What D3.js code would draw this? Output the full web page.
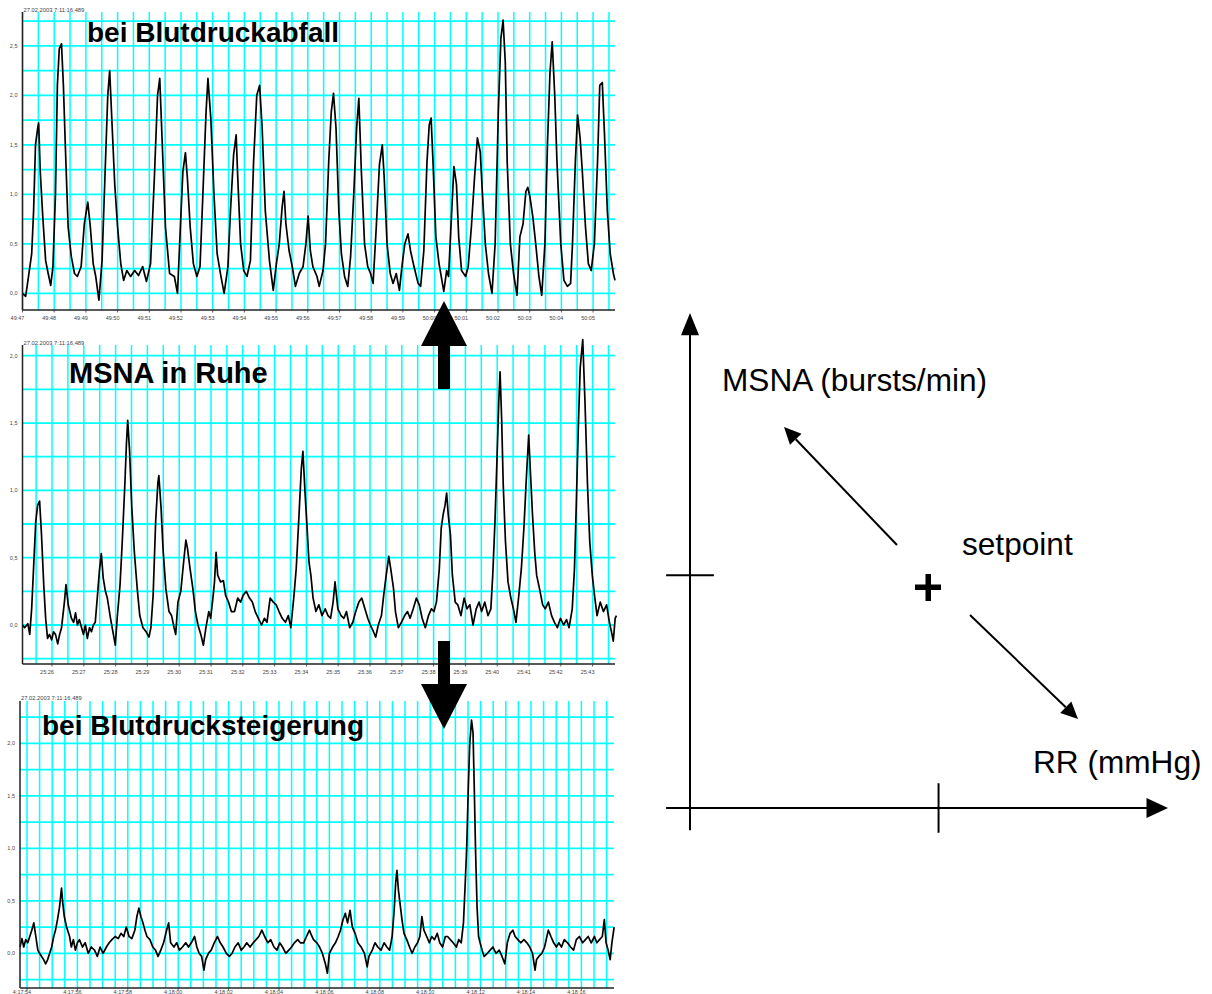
<!DOCTYPE html>
<html>
<head>
<meta charset="utf-8">
<script src="https://cdn.jsdelivr.net/npm/d3@7"></script>
<style>
  body { margin: 0; background: #fff; }
  svg { display: block; }
  text { font-family: Arial, "Liberation Sans", sans-serif; }
</style>
</head>
<body>
<svg width="1212" height="994"></svg>
<script>
// MSNA traces: [seconds after first labelled tick, amplitude]
const fallTrace = [
  [0,0.0],[0.1,-0.03],[0.19,0.17],[0.29,0.4],[0.35,0.83],[0.41,1.5],[0.48,1.67],[0.51,1.72],[0.56,1.23],[0.64,0.77],
  [0.73,0.33],[0.81,0.2],[0.89,0.08],[0.96,0.27],[1.04,1.0],[1.1,2.1],[1.16,2.47],[1.23,2.52],[1.29,2.1],[1.35,1.5],
  [1.44,0.67],[1.54,0.37],[1.64,0.2],[1.73,0.17],[1.85,0.27],[1.95,0.7],[2.06,0.92],[2.14,0.67],[2.23,0.3],[2.31,0.17],
  [2.41,-0.07],[2.51,0.33],[2.6,1.17],[2.69,2.0],[2.75,2.25],[2.83,1.67],[2.91,1.1],[3.0,0.67],[3.1,0.3],[3.19,0.13],
  [3.29,0.23],[3.41,0.17],[3.54,0.23],[3.66,0.18],[3.79,0.27],[3.91,0.12],[4.04,0.3],[4.16,1.17],[4.26,2.0],[4.33,2.17],
  [4.41,1.5],[4.51,0.67],[4.64,0.2],[4.79,0.17],[4.89,0.0],[4.98,0.67],[5.06,1.23],[5.14,1.42],[5.2,1.17],[5.29,0.67],
  [5.39,0.3],[5.5,0.17],[5.6,0.27],[5.69,1.0],[5.79,1.83],[5.85,2.17],[5.94,1.77],[6.04,1.0],[6.14,0.4],[6.26,0.17],
  [6.36,0.0],[6.48,0.27],[6.56,0.83],[6.66,1.4],[6.74,1.6],[6.79,1.17],[6.88,0.5],[6.98,0.23],[7.08,0.17],[7.19,0.33],
  [7.29,1.33],[7.39,2.0],[7.48,2.1],[7.56,1.67],[7.66,0.83],[7.79,0.33],[7.91,0.03],[8.01,0.3],[8.1,0.5],[8.19,0.87],
  [8.25,1.03],[8.31,0.7],[8.41,0.43],[8.51,0.27],[8.61,0.07],[8.73,0.2],[8.85,0.27],[8.94,0.5],[9.01,0.78],[9.08,0.43],
  [9.16,0.27],[9.29,0.17],[9.36,0.07],[9.48,0.23],[9.56,0.5],[9.66,1.33],[9.74,1.83],[9.81,2.02],[9.89,1.67],[9.98,0.83],
  [10.06,0.4],[10.16,0.17],[10.26,0.07],[10.35,0.37],[10.45,1.0],[10.54,1.67],[10.61,1.97],[10.69,1.23],[10.79,0.5],[10.89,0.27],
  [10.98,0.2],[11.06,0.1],[11.16,0.67],[11.26,1.3],[11.35,1.5],[11.41,1.17],[11.5,0.5],[11.6,0.2],[11.69,0.1],[11.79,0.2],
  [11.89,0.03],[11.98,0.3],[12.06,0.5],[12.16,0.6],[12.24,0.43],[12.35,0.27],[12.48,0.1],[12.56,0.07],[12.66,0.43],[12.76,1.33],
  [12.83,1.7],[12.89,1.77],[12.95,1.33],[13.04,0.57],[13.14,0.3],[13.23,0.13],[13.29,0.02],[13.38,0.23],[13.44,0.17],[13.54,0.83],
  [13.61,1.28],[13.69,1.1],[13.76,0.57],[13.85,0.23],[13.98,0.17],[14.06,0.27],[14.16,0.67],[14.26,1.17],[14.35,1.57],[14.44,1.43],
  [14.51,1.0],[14.6,0.5],[14.7,0.2],[14.81,0.0],[14.91,0.5],[15.01,1.83],[15.09,2.57],[15.16,2.76],[15.23,2.33],[15.29,1.33],
  [15.39,0.5],[15.49,0.2],[15.6,-0.02],[15.69,0.57],[15.79,0.7],[15.88,1.03],[15.94,1.07],[16.01,0.97],[16.1,0.77],[16.19,0.5],
  [16.29,0.17],[16.38,-0.02],[16.48,0.5],[16.56,1.5],[16.64,2.23],[16.71,2.54],[16.79,2.0],[16.86,1.33],[16.98,0.5],[17.08,0.13],
  [17.19,0.07],[17.29,0.1],[17.35,0.5],[17.44,1.33],[17.51,1.8],[17.59,1.57],[17.66,1.23],[17.76,0.67],[17.85,0.3],[17.94,0.23],
  [18.04,0.5],[18.14,1.33],[18.21,2.1],[18.29,2.13],[18.36,1.6],[18.45,0.83],[18.54,0.4],[18.64,0.2],[18.69,0.13]
];

const restTrace = [
  [-0.93,0.0],[-0.86,-0.02],[-0.76,0.01],[-0.7,-0.07],[-0.64,0.12],[-0.58,0.42],[-0.51,0.77],[-0.45,0.89],[-0.39,0.92],[-0.33,0.67],
  [-0.26,0.3],[-0.2,0.05],[-0.14,-0.1],[-0.08,-0.07],[-0.01,-0.11],[0.05,-0.05],[0.11,-0.07],[0.18,-0.14],[0.24,-0.07],[0.3,-0.02],
  [0.39,0.17],[0.44,0.3],[0.51,0.15],[0.61,0.05],[0.68,0.02],[0.74,0.09],[0.8,0.0],[0.86,0.04],[0.93,-0.02],[0.99,-0.07],
  [1.05,0.0],[1.11,-0.1],[1.18,-0.02],[1.24,-0.05],[1.3,0.0],[1.36,0.02],[1.43,0.22],[1.49,0.4],[1.55,0.53],[1.61,0.35],
  [1.68,0.25],[1.74,0.2],[1.84,0.05],[1.93,-0.07],[1.99,-0.15],[2.05,0.05],[2.14,0.3],[2.21,0.62],[2.29,1.04],[2.34,1.34],
  [2.38,1.52],[2.44,1.29],[2.51,0.87],[2.59,0.54],[2.68,0.27],[2.76,0.07],[2.86,-0.02],[2.96,-0.05],[3.05,-0.09],[3.11,-0.02],
  [3.18,0.22],[3.26,0.77],[3.33,1.06],[3.36,1.11],[3.43,0.87],[3.49,0.57],[3.58,0.27],[3.68,0.1],[3.76,0.07],[3.84,-0.02],
  [3.89,-0.07],[3.96,0.17],[4.05,0.25],[4.14,0.47],[4.21,0.63],[4.26,0.57],[4.34,0.42],[4.43,0.27],[4.51,0.1],[4.59,0.0],
  [4.68,-0.07],[4.76,-0.15],[4.84,-0.02],[4.93,0.1],[4.99,0.05],[5.06,0.2],[5.11,0.32],[5.16,0.54],[5.21,0.37],[5.3,0.32],
  [5.39,0.33],[5.46,0.22],[5.55,0.17],[5.64,0.1],[5.74,0.1],[5.84,0.2],[5.93,0.17],[6.01,0.22],[6.11,0.25],[6.21,0.2],
  [6.3,0.17],[6.39,0.1],[6.49,0.05],[6.59,0.0],[6.68,0.05],[6.76,0.02],[6.86,0.2],[6.96,0.17],[7.05,0.15],[7.14,0.1],
  [7.24,0.05],[7.34,0.02],[7.43,0.07],[7.51,-0.02],[7.61,0.22],[7.68,0.42],[7.74,0.69],[7.8,0.97],[7.84,1.16],[7.89,1.29],
  [7.96,0.97],[8.01,0.77],[8.08,0.47],[8.14,0.37],[8.21,0.2],[8.3,0.1],[8.39,0.15],[8.49,0.07],[8.59,0.12],[8.68,0.07],
  [8.76,0.05],[8.84,0.17],[8.9,0.32],[8.99,0.12],[9.09,0.07],[9.18,0.05],[9.26,0.1],[9.36,-0.02],[9.46,0.02],[9.55,0.1],
  [9.65,0.17],[9.74,0.2],[9.84,0.12],[9.93,0.05],[10.01,0.0],[10.11,-0.05],[10.18,-0.09],[10.26,0.0],[10.36,0.07],[10.43,0.22],
  [10.51,0.37],[10.59,0.51],[10.65,0.42],[10.74,0.27],[10.8,0.1],[10.89,-0.02],[10.99,0.02],[11.09,0.07],[11.18,0.1],[11.26,0.05],
  [11.36,0.12],[11.46,0.2],[11.55,0.15],[11.64,0.05],[11.74,-0.02],[11.84,0.07],[11.93,0.12],[12.01,0.1],[12.09,0.17],[12.18,0.42],
  [12.24,0.72],[12.3,0.82],[12.36,0.89],[12.41,0.98],[12.46,0.82],[12.53,0.67],[12.59,0.37],[12.68,0.17],[12.76,0.15],[12.86,0.07],
  [12.96,0.2],[13.05,0.12],[13.14,0.15],[13.24,0.0],[13.34,0.12],[13.43,0.17],[13.51,0.1],[13.61,0.17],[13.71,0.07],[13.8,0.12],
  [13.86,0.37],[13.93,0.77],[13.99,1.21],[14.05,1.66],[14.09,1.88],[14.14,1.53],[14.19,1.04],[14.26,0.62],[14.34,0.32],[14.43,0.2],
  [14.51,0.12],[14.59,0.02],[14.68,0.22],[14.76,0.42],[14.84,0.72],[14.91,1.06],[14.99,1.41],[15.05,1.11],[15.11,0.82],[15.18,0.54],
  [15.24,0.37],[15.33,0.27],[15.43,0.15],[15.51,0.12],[15.61,0.17],[15.71,0.07],[15.8,0.02],[15.89,-0.02],[15.99,0.05],[16.09,0.0],
  [16.18,0.04],[16.26,-0.02],[16.36,0.12],[16.43,0.42],[16.49,0.92],[16.55,1.46],[16.61,1.91],[16.69,2.12],[16.76,1.66],[16.84,1.04],
  [16.91,0.62],[16.99,0.37],[17.06,0.22],[17.14,0.07],[17.24,0.17],[17.34,0.1],[17.44,0.15],[17.53,0.02],[17.61,-0.07],[17.65,-0.12],
  [17.71,0.05],[17.75,0.07]
];

const riseTrace = [
  [-0.28,0.06],[-0.2,0.14],[-0.13,0.06],[-0.05,0.13],[0.03,0.1],[0.11,0.16],[0.19,0.22],[0.27,0.29],[0.35,0.16],[0.43,0.03],
  [0.5,0.0],[0.58,-0.03],[0.66,-0.06],[0.74,-0.1],[0.82,-0.06],[0.9,0.0],[0.98,0.06],[1.06,0.16],[1.13,0.22],[1.21,0.32],
  [1.29,0.44],[1.37,0.62],[1.42,0.48],[1.48,0.35],[1.57,0.25],[1.69,0.16],[1.76,0.06],[1.84,0.13],[1.92,0.03],[2.0,0.1],
  [2.08,0.13],[2.2,0.06],[2.31,0.1],[2.43,0.0],[2.55,0.06],[2.68,0.03],[2.79,-0.03],[2.9,0.06],[3.02,0.0],[3.15,0.06],
  [3.26,0.1],[3.37,0.13],[3.5,0.16],[3.62,0.14],[3.73,0.19],[3.84,0.16],[3.94,0.25],[4.05,0.16],[4.16,0.14],[4.28,0.22],
  [4.36,0.35],[4.44,0.43],[4.52,0.35],[4.6,0.29],[4.68,0.22],[4.76,0.16],[4.88,0.13],[4.99,0.06],[5.1,0.03],[5.2,-0.03],
  [5.31,0.03],[5.42,0.1],[5.54,0.22],[5.62,0.29],[5.7,0.1],[5.83,0.06],[5.94,0.1],[6.05,0.03],[6.17,0.06],[6.3,0.1],
  [6.41,0.06],[6.52,0.1],[6.65,0.16],[6.74,0.06],[6.83,0.0],[6.93,-0.03],[7.02,-0.16],[7.09,-0.06],[7.2,0.0],[7.31,0.03],
  [7.43,0.1],[7.56,0.16],[7.67,0.1],[7.78,0.06],[7.91,0.0],[8.03,-0.03],[8.14,0.0],[8.25,0.06],[8.38,0.1],[8.5,0.03],
  [8.61,0.06],[8.72,0.1],[8.85,0.06],[8.98,0.1],[9.09,0.13],[9.2,0.16],[9.32,0.22],[9.43,0.16],[9.56,0.1],[9.67,0.13],
  [9.8,0.06],[9.92,0.03],[10.03,0.1],[10.14,0.06],[10.27,0.0],[10.39,0.03],[10.5,0.06],[10.61,0.1],[10.74,0.13],[10.85,0.1],
  [10.98,0.1],[11.09,0.16],[11.21,0.22],[11.29,0.17],[11.37,0.13],[11.5,0.1],[11.61,0.06],[11.72,0.0],[11.84,-0.1],[11.92,-0.19],
  [12.0,0.0],[12.13,0.06],[12.24,0.1],[12.35,0.16],[12.44,0.22],[12.54,0.32],[12.63,0.38],[12.72,0.29],[12.82,0.41],[12.91,0.25],
  [13.02,0.19],[13.13,0.1],[13.26,0.06],[13.39,0.0],[13.5,-0.13],[13.57,-0.03],[13.7,0.03],[13.81,0.1],[13.92,0.06],[14.05,0.03],
  [14.17,0.1],[14.28,0.06],[14.39,0.03],[14.49,0.16],[14.57,0.41],[14.63,0.67],[14.68,0.79],[14.74,0.6],[14.8,0.48],[14.88,0.32],
  [14.96,0.19],[15.07,0.13],[15.18,0.06],[15.28,0.0],[15.39,0.06],[15.5,0.1],[15.59,0.16],[15.67,0.35],[15.75,0.22],[15.86,0.16],
  [15.97,0.1],[16.06,0.16],[16.17,0.13],[16.28,0.19],[16.38,0.1],[16.49,0.06],[16.6,0.16],[16.69,0.16],[16.8,0.13],[16.91,0.1],
  [17.04,0.06],[17.13,0.13],[17.23,0.1],[17.32,0.29],[17.39,0.67],[17.45,1.02],[17.51,1.56],[17.57,2.0],[17.64,2.22],[17.7,2.1],
  [17.75,1.56],[17.8,0.98],[17.86,0.44],[17.92,0.16],[17.98,0.1],[18.06,0.03],[18.14,-0.03],[18.27,0.0],[18.38,0.03],[18.49,0.06],
  [18.61,0.0],[18.74,0.03],[18.85,-0.03],[18.96,-0.1],[19.06,0.1],[19.17,0.19],[19.28,0.22],[19.37,0.16],[19.48,0.13],[19.59,0.1],
  [19.72,0.13],[19.84,0.1],[19.95,0.06],[20.06,0.0],[20.16,-0.16],[20.22,-0.06],[20.31,-0.03],[20.43,0.0],[20.54,0.06],[20.63,0.16],
  [20.69,0.22],[20.79,0.16],[20.9,0.1],[21.01,0.06],[21.1,0.1],[21.21,0.06],[21.32,0.13],[21.45,0.1],[21.57,0.06],[21.69,0.03],
  [21.8,0.13],[21.92,0.16],[22.05,0.1],[22.16,0.13],[22.27,0.16],[22.39,0.1],[22.52,0.16],[22.61,0.1],[22.72,0.13],[22.83,0.16],
  [22.91,0.32],[22.98,0.1],[23.06,0.03],[23.14,-0.06],[23.21,0.1],[23.3,0.25]
];

// x tick labels (one per tick)
const fallTickLabels = ["49:47","49:48","49:49","49:50","49:51","49:52","49:53","49:54","49:55","49:56",
  "49:57","49:58","49:59","50:00","50:01","50:02","50:03","50:04","50:05"];
const restTickLabels = ["25:26","25:27","25:28","25:29","25:30","25:31","25:32","25:33","25:34","25:35",
  "25:36","25:37","25:38","25:39","25:40","25:41","25:42","25:43"];
const riseTickLabels = ["4:17:54","4:17:56","4:17:58","4:18:00","4:18:02","4:18:04","4:18:06","4:18:08",
  "4:18:10","4:18:12","4:18:14","4:18:16"];

const stampText = "27.02.2003 7:11:16,489";
const titles = ["bei Blutdruckabfall", "MSNA in Ruhe", "bei Blutdrucksteigerung"];

var svg = d3.select("svg");
var fmt = d => d3.format(".1f")(d).replace(".", ",");

// panel layouts
var panels = [
  { trace: fallTrace, labels: fallTickLabels, tickStep: 1, title: titles[0],
    left: 22.5, right: 615, top: 12, bottom: 310,
    xDom: [0, 18], xRange: [22.5, 593.1], yDom: [0, 2.5], yRange: [293.3, 45.8],
    gridMin: 0, gridMax: 2.75, yMax: 2.5, titleX: 87, titleY: 41.5, titleSize: 28, stampY: 12, labelY: 319.5 },
  { trace: restTrace, labels: restTickLabels, tickStep: 1, title: titles[1],
    left: 22.5, right: 615, top: 345, bottom: 664,
    xDom: [0, 17], xRange: [52, 592.6], yDom: [0, 2], yRange: [625, 355.7],
    gridMin: -0.25, gridMax: 2.0, yMax: 2.0, titleX: 69, titleY: 383.3, titleSize: 29, stampY: 345, labelY: 673.5 },
  { trace: riseTrace, labels: riseTickLabels, tickStep: 2, title: titles[2],
    left: 20, right: 614, top: 701, bottom: 988,
    xDom: [0, 22], xRange: [27, 581.4], yDom: [0, 2], yRange: [953.3, 743.3],
    gridMin: -0.25, gridMax: 2.25, yMax: 2.0, titleX: 42, titleY: 735, titleSize: 28, stampY: 699.5, labelY: 993.8 }
];

panels.forEach(function(p) {
  var x = d3.scaleLinear().domain(p.xDom).range(p.xRange);
  var y = d3.scaleLinear().domain(p.yDom).range(p.yRange);
  var g = svg.append("g");

  // vertical grid every half second
  var tStart = Math.ceil(x.invert(p.left) * 2) / 2;
  var tEnd = x.invert(p.right);
  var vLines = d3.range(tStart, tEnd + 0.001, 0.5);
  g.selectAll(".vgrid").data(vLines).enter().append("line")
    .attr("x1", d => x(d)).attr("x2", d => x(d))
    .attr("y1", p.top).attr("y2", p.bottom)
    .attr("stroke", "#00ffff").attr("stroke-width", 1.5);

  // horizontal grid every 0.25
  var hLines = d3.range(p.gridMin, p.gridMax + 0.001, 0.25);
  g.selectAll(".hgrid").data(hLines).enter().append("line")
    .attr("x1", p.left).attr("x2", p.right)
    .attr("y1", d => y(d)).attr("y2", d => y(d))
    .attr("stroke", "#00ffff").attr("stroke-width", 1.8);

  // trace
  var line = d3.line().x(d => x(d[0])).y(d => y(d[1]));
  g.append("path").datum(p.trace)
    .attr("d", line)
    .attr("fill", "none").attr("stroke", "#000").attr("stroke-width", 1.7)
    .attr("stroke-linejoin", "round");

  // axes
  g.append("line").attr("x1", p.left).attr("x2", p.left).attr("y1", p.top).attr("y2", p.bottom)
    .attr("stroke", "#222").attr("stroke-width", 1.5);
  g.append("line").attr("x1", p.left).attr("x2", p.right).attr("y1", p.bottom).attr("y2", p.bottom)
    .attr("stroke", "#222").attr("stroke-width", 1.5);

  // x ticks + labels
  var ticks = p.labels.map((l, i) => ({ t: i * p.tickStep, label: l }));
  g.selectAll(".xtick").data(ticks).enter().append("line")
    .attr("x1", d => x(d.t)).attr("x2", d => x(d.t))
    .attr("y1", p.bottom).attr("y2", p.bottom + 2.5)
    .attr("stroke", "#333").attr("stroke-width", 0.8);
  g.selectAll(".xlabel").data(ticks).enter().append("text")
    .attr("x", d => x(d.t) - 5).attr("y", p.labelY)
    .attr("text-anchor", "middle").attr("font-size", 5.5).attr("fill", "#444")
    .text(d => d.label);

  // y labels
  var yVals = d3.range(0, p.yMax + 0.001, 0.5);
  g.selectAll(".ylabel").data(yVals).enter().append("text")
    .attr("x", p.left - 5).attr("y", d => y(d) + 2)
    .attr("text-anchor", "end").attr("font-size", 5.5).attr("fill", "#444")
    .text(fmt);

  // time stamp
  g.append("text").attr("x", p.left + 1).attr("y", p.stampY)
    .attr("font-size", 5.8).attr("fill", "#444").text(stampText);

  // title
  g.append("text").attr("x", p.titleX).attr("y", p.titleY)
    .attr("font-size", p.titleSize).attr("font-weight", "bold").attr("fill", "#000")
    .text(p.title);
});

// block arrows between the panels
var blockArrows = [
  { dir: -1, tip: 301, base: 346, end: 389 },
  { dir: 1, tip: 729, base: 684, end: 641 }
];
blockArrows.forEach(function(a) {
  var cx = 444;
  svg.append("rect")
    .attr("x", cx - 6).attr("width", 12)
    .attr("y", Math.min(a.base, a.end)).attr("height", Math.abs(a.base - a.end))
    .attr("fill", "#000");
  svg.append("path")
    .attr("d", `M ${cx},${a.tip} L ${cx - 23},${a.base} L ${cx + 23},${a.base} Z`)
    .attr("fill", "#000");
});

// baroreflex schematic
var sx = d3.scaleLinear().domain([0, 10]).range([690, 1168]);
var sy = d3.scaleLinear().domain([0, 10]).range([808, 313]);
var setpoint = [5.2, 4.7];
var schem = svg.append("g").attr("stroke", "#000").attr("stroke-width", 2);

// axes
schem.append("line").attr("x1", sx(0)).attr("x2", sx(0)).attr("y1", sy(-0.45)).attr("y2", sy(9.6));
schem.append("path").attr("d", `M ${sx(0)},${sy(10)} L ${sx(0) - 9},${sy(9.55)} L ${sx(0) + 9},${sy(9.55)} Z`)
  .attr("fill", "#000").attr("stroke", "none");
schem.append("line").attr("x1", sx(-0.5)).attr("x2", sx(9.6)).attr("y1", sy(0)).attr("y2", sy(0));
schem.append("path").attr("d", `M ${sx(10)},${sy(0)} L ${sx(9.55)},${sy(0) - 10} L ${sx(9.55)},${sy(0) + 10} Z`)
  .attr("fill", "#000").attr("stroke", "none");

// setpoint ticks
schem.append("line").attr("x1", sx(-0.5)).attr("x2", sx(0.5)).attr("y1", sy(setpoint[1])).attr("y2", sy(setpoint[1]));
schem.append("line").attr("x1", sx(setpoint[0])).attr("x2", sx(setpoint[0])).attr("y1", sy(0.5)).attr("y2", sy(-0.5));

// setpoint cross
var cx0 = 928, cy0 = 587;
svg.append("rect").attr("x", cx0 - 13).attr("y", cy0 - 2.5).attr("width", 26).attr("height", 5.5).attr("fill", "#000");
svg.append("rect").attr("x", cx0 - 2.5).attr("y", cy0 - 13).attr("width", 5.5).attr("height", 27).attr("fill", "#000");

// diagonal arrows
function diagArrow(x1, y1, x2, y2) {
  var ang = Math.atan2(y2 - y1, x2 - x1);
  var len = 17, half = 8;
  var bx = x2 - len * Math.cos(ang), by = y2 - len * Math.sin(ang);
  schem.append("line").attr("x1", x1).attr("y1", y1).attr("x2", bx).attr("y2", by);
  schem.append("path")
    .attr("d", `M ${x2},${y2} L ${bx - half * Math.sin(ang)},${by + half * Math.cos(ang)} L ${bx + half * Math.sin(ang)},${by - half * Math.cos(ang)} Z`)
    .attr("fill", "#000").attr("stroke", "none");
}
diagArrow(897, 545, 784, 427);
diagArrow(970, 615, 1078, 719);

// schematic labels
var labelData = [
  { text: "MSNA (bursts/min)", x: 722, y: 391 },
  { text: "setpoint", x: 962, y: 555 },
  { text: "RR (mmHg)", x: 1033, y: 773 }
];
svg.selectAll(".slabel").data(labelData).enter().append("text")
  .attr("x", d => d.x).attr("y", d => d.y)
  .attr("font-size", 31.6).attr("fill", "#000")
  .text(d => d.text);
</script>
</body>
</html>
